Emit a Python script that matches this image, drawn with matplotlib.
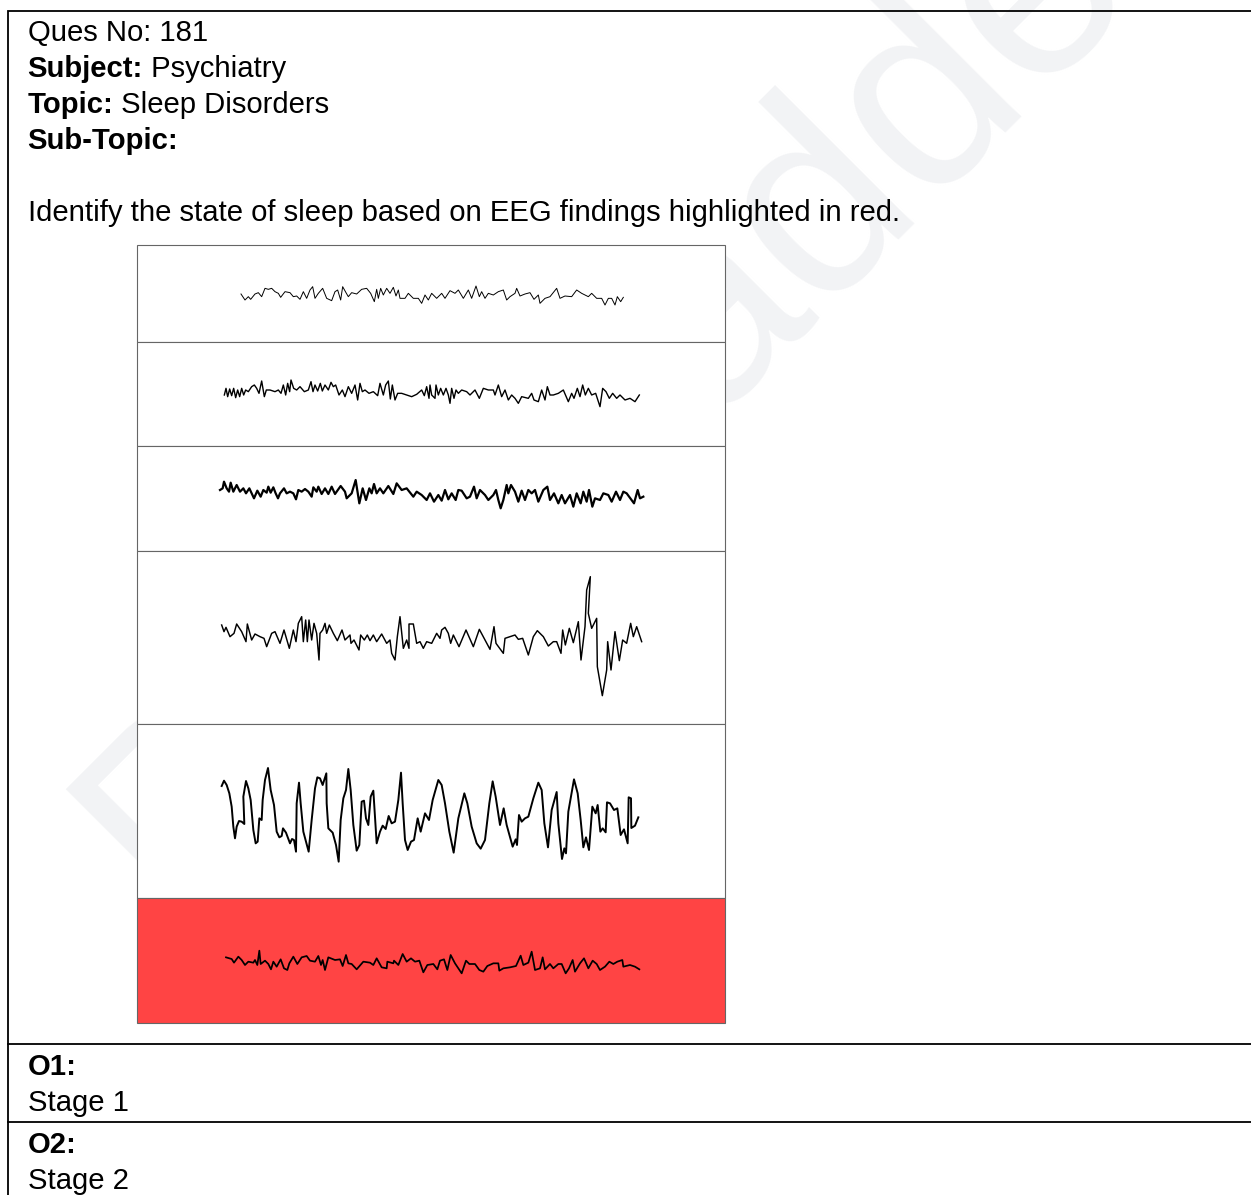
import matplotlib
matplotlib.use('Agg')
from matplotlib import pyplot as plt
from matplotlib.patches import Rectangle

W, H = 1251, 1195

plt.rcParams['font.family'] = ['Liberation Sans', 'DejaVu Sans']

# header lines, bold part then plain part
header_bold = ['', 'Subject:', 'Topic:', 'Sub-Topic:']
header_plain = ['Ques No: 181', ' Psychiatry', ' Sleep Disorders', '']
question = 'Identify the state of sleep based on EEG findings highlighted in red.'
option_heads = ['O1:', 'O2:']
option_texts = ['Stage 1', 'Stage 2']
watermark_parts = ['Prep', 'ladder']

# panel edges in the table, top to bottom
panel_edges = [245, 342, 446, 551, 724, 898, 1023]
panel_colors = ['white', 'white', 'white', 'white', 'white', '#ff4444']

# EEG traces (sample position, amplitude)
eeg1_x = [93,105,115,122,135,145,155,165,175,185,195,205,212,225,240,250,260,270,280,290,300,308,315,325,338,350,365,375,383,392,398,408,415,425,440,455,470,482,493,500,505,512,520,530,540,550,558,565,570,585,595,610,625,635,645,655,665,680,695,705,720,735,745,760,775,785,798,808,815,825,835,850,865,880,890,900,915,920,930,945,960,972,985,990,1005,1020,1040,1050,1065,1085,1100,1115,1125,1135,1145,1160,1175,1185,1195,1205,1215,1222,1232,1240]
eeg1_y = [72,90,80,88,72,68,80,55,58,55,65,70,82,65,68,80,78,88,65,85,60,50,85,70,55,85,92,65,60,90,50,68,80,68,72,58,55,70,95,58,85,55,75,55,70,52,78,60,85,85,70,85,85,100,75,90,70,85,70,85,62,70,60,85,60,85,48,80,65,85,70,75,65,60,90,80,70,55,78,72,68,88,75,100,85,80,55,85,78,80,60,70,75,80,70,85,85,105,85,85,105,80,95,82]

eeg2_x = [43,48,53,59,65,71,77,83,89,95,101,107,115,125,133,140,147,155,163,169,180,195,205,213,220,227,233,239,243,251,260,270,283,295,303,309,315,323,331,337,345,355,363,370,377,387,397,405,415,425,435,443,450,457,465,477,490,503,510,520,527,535,541,547,555,563,575,590,605,620,635,643,650,657,
          660,665,675,678,685,692,700,708,715,720,725,732,738,745,755,770,780,795,808,820,835,850,855,865,875,885,895,905,915,925,935,955,965,972,985,995,1005,1012,1020,1030,1045,1060,1075,1085,1092,1102,1110,1118,1126,1135,1145,1157,1170,1178,1188,1198,1208,1220,1230,1245,1260,1275,1288]
eeg2_y = [375,355,380,357,377,355,383,360,380,355,375,360,365,350,345,355,370,333,380,360,360,365,360,370,345,375,340,365,330,355,360,350,365,360,335,365,345,363,340,363,345,360,337,350,345,375,360,380,350,370,345,390,340,365,360,370,365,377,340,375,345,333,387,345,390,370,370,375,380,373,360,377,350,385,
          345,375,385,345,375,355,375,355,375,400,355,385,360,370,360,365,375,360,385,355,360,360,375,345,380,360,390,375,385,400,380,385,370,390,395,360,390,350,375,375,370,360,395,370,385,355,380,345,375,355,375,370,410,355,365,385,370,385,375,390,385,395,375]

eeg3_x = [30,38,42,50,57,62,70,80,90,100,108,118,132,142,152,160,170,175,182,190,197,204,210,222,230,240,250,258,265,275,285,295,305,310,320,325,335,345,355,365,375,392,405,410,425,437,448,458,468,478,485,492,500,510,520,535,550,560,575,590,610,620,635,650,660,672,685,695,705,715,725,737,745,755,770,780,792,800,810,825,835,850,858,865,872,880,890,895,903,915,925,935,945,955,965,975,985,1000,1012,1020,1032,1045,1055,1065,1080,1090,1100,1112,1120,1130,1137,1147,1155,1170,1180,1195,1205,1218,1230,1240,1250,1272,1283,1290,1300]
eeg3_y = [60,55,35,55,65,38,65,45,65,55,70,55,85,62,80,60,68,50,68,52,70,85,70,55,70,65,70,88,60,65,57,65,80,52,65,50,72,55,72,50,72,48,65,85,70,30,100,55,90,55,70,42,70,55,70,48,72,40,60,55,80,65,75,90,70,95,75,92,60,88,70,90,60,62,85,80,50,85,60,75,90,75,60,90,115,90,45,70,45,65,95,62,90,60,70,60,95,60,50,90,70,100,75,100,75,110,70,100,65,95,60,110,85,90,70,75,95,65,90,65,70,100,60,85,80]

eeg4_x = [35,42,48,60,72,80,95,108,112,125,135,150,162,170,185,195,210,222,238,250,258,265,275,280,287,292,297,305,312,320,327,330,338,345,350,358,370,382,396,405,420,423,432,447,452,463,472,480,490,500,515,530,540,545,555,562,570,580,590,597,597,610,620,630,640,650,665,680,690,695,705,715,722,730,747,768,790,808,840,852,858,880,885,915,925,938,955,970,982,1000,1015,1030,1040,1053,1058,1066,1078,1090,1105,1113,1125,1130,1141,1135,1145,1160,1162,1177,1190,1193,1203,1215,1228,1238,1250,1262,1270,1280,1295]
eeg4_y = [465,485,472,500,490,462,485,515,462,510,492,500,505,530,490,485,520,480,535,480,515,460,440,515,450,515,450,510,460,490,570,490,480,460,490,465,490,512,480,510,495,520,510,540,495,510,495,512,495,515,492,520,510,550,570,500,440,535,510,535,462,462,520,515,535,515,520,490,505,480,472,490,520,495,530,480,530,478,538,470,520,550,505,495,508,505,555,500,482,500,528,515,515,550,480,525,475,518,455,570,470,360,320,430,475,445,590,677,600,515,600,485,572,510,520,460,500,470,515]

eeg5_x = [35,42,50,58,65,70,75,80,87,95,103,100,108,115,122,130,137,143,148,155,158,165,174,182,192,200,208,215,219,228,240,246,252,258,260,267,272,280,288,296,305,315,322,330,338,349,350,355,368,378,386,392,400,408,415,422,430,440,448,455,462,468,475,482,490,495,500,510,518,527,536,545,555,565,573,578,585,593,603,612,623,632,645,657,668,685,695,705,718,731,745,763,772,785,800,812,825,838,848,857,870,881,890,908,917,921,927,935,945,955,970,985,995,1003,1014,1025,1040,1045,1056,1063,1068,1075,1092,1103,1112,1120,1128,1137,1147,1157,1163,1171,1178,1187,1191,1200,1212,1222,1232,1242,1253,1256,1263,1264,1275,1285]
eeg5_y = [78,62,75,100,140,200,235,200,183,185,192,110,63,85,120,210,250,245,175,180,120,60,24,90,135,215,232,228,205,218,250,237,240,275,130,68,130,215,245,275,180,85,52,55,75,40,130,205,218,255,305,180,115,90,27,90,195,272,255,125,122,175,195,110,92,170,250,215,197,207,168,190,185,120,38,130,240,270,245,240,175,215,160,180,120,60,75,130,215,278,175,100,130,200,250,266,240,130,64,110,195,145,195,260,238,255,165,185,175,170,115,68,90,190,262,150,96,190,297,265,280,155,58,100,180,262,232,270,140,160,135,215,205,217,127,130,150,145,225,208,250,112,115,204,197,172]

eeg6_x = [48,65,72,85,95,105,115,130,135,142,148,152,165,175,183,190,200,212,222,232,238,250,262,275,290,300,315,325,333,338,345,355,375,390,398,408,415,425,440,460,480,490,500,515,530,532,550,552,565,578,590,603,615,628,640,652,670,682,690,702,712,722,735,755,768,778,795,808,820,832,850,865,868,880,900,918,932,940,955,965,975,990,998,1005,1020,1030,1045,1055,1067,1077,1088,1095,1110,1122,1135,1148,1160,1170,1185,1198,1210,1222,1237,1240,1260,1275,1288]
eeg6_y = [52,57,68,50,60,75,65,68,60,75,32,72,62,72,88,65,80,58,85,90,70,50,72,52,48,62,65,48,75,60,90,52,60,58,78,45,70,72,88,65,68,75,55,82,85,65,70,62,75,42,65,55,65,62,97,75,72,88,62,58,90,45,70,100,62,72,72,90,95,78,70,70,92,85,82,78,47,75,68,35,90,85,52,88,72,85,72,72,100,85,60,95,70,55,85,62,72,90,80,65,72,65,60,80,75,80,88]

fig = plt.figure(figsize=(W / 100, H / 100), dpi=100)

# page axes in pixels of the page
ax = fig.add_axes([0, 0, 1, 1])
ax.set_xlim(0, W)
ax.set_ylim(H, 0)
ax.axis('off')

# watermark, two pieces because the spacing is wider than the font's
for (wx, wy), part in zip([(176, 921), (666, 454)], watermark_parts):
    ax.text(wx, wy, part, fontsize=196, color='#f2f3f5', rotation=45,
            rotation_mode='anchor', ha='left', va='baseline', zorder=1, clip_on=True)

# frame of the question table
ax.plot([W, 8, 8], [11, 11, H], color='black', lw=1.3, zorder=2, solid_joinstyle='miter')
ax.plot([8, W], [1044, 1044], color='black', lw=1.3, zorder=2)
ax.plot([8, W], [1122, 1122], color='black', lw=1.3, zorder=2)

fs = 21.1
for i, (b, p) in enumerate(zip(header_bold, header_plain)):
    y = 41 + 36 * i
    t = ax.text(27.5, y, b, fontsize=fs, fontweight='bold', va='baseline', zorder=5)
    if p:
        if b:
            ax.annotate(p, xy=(1, 0), xycoords=t, fontsize=fs, va='bottom', zorder=5)
        else:
            ax.text(28, y, p, fontsize=fs, va='baseline', zorder=5)
ax.text(28, 221, question, fontsize=fs, va='baseline', zorder=5)
for y, head, body in zip([1075, 1153], option_heads, option_texts):
    ax.text(27.5, y, head, fontsize=fs, fontweight='bold', va='baseline', zorder=5)
    ax.text(28, y + 36, body, fontsize=fs, va='baseline', zorder=5)

# the six panels
for i, c in enumerate(panel_colors):
    top, bottom = panel_edges[i], panel_edges[i + 1]
    ax.add_patch(Rectangle((137, top - 0.5), 588, bottom - top, facecolor=c,
                           edgecolor='#666666', lw=0.8, zorder=3))


def trace(x, y, crop, lw):
    # crop is the page region the readings were taken in (3 readings per pixel)
    left, top, w, h = crop
    a = fig.add_axes([left / W, 1 - (top + h) / H, w / W, h / H])
    a.patch.set_alpha(0)
    a.set_xlim(0, w * 3)
    a.set_ylim(h * 3, 0)
    a.axis('off')
    a.plot(x, y, color='black', lw=lw, solid_joinstyle='round')


trace(eeg1_x, eeg1_y, (210, 270, 440, 140), 0.7)
trace(eeg2_x, eeg2_y, (210, 270, 440, 140), 1.0)
trace(eeg3_x, eeg3_y, (210, 470, 440, 230), 1.6)
trace(eeg4_x, eeg4_y, (210, 470, 440, 230), 1.05)
trace(eeg5_x, eeg5_y, (210, 760, 440, 110), 1.4)
trace(eeg6_x, eeg6_y, (210, 940, 440, 50), 1.25)

plt.savefig('out.png', dpi=100)
